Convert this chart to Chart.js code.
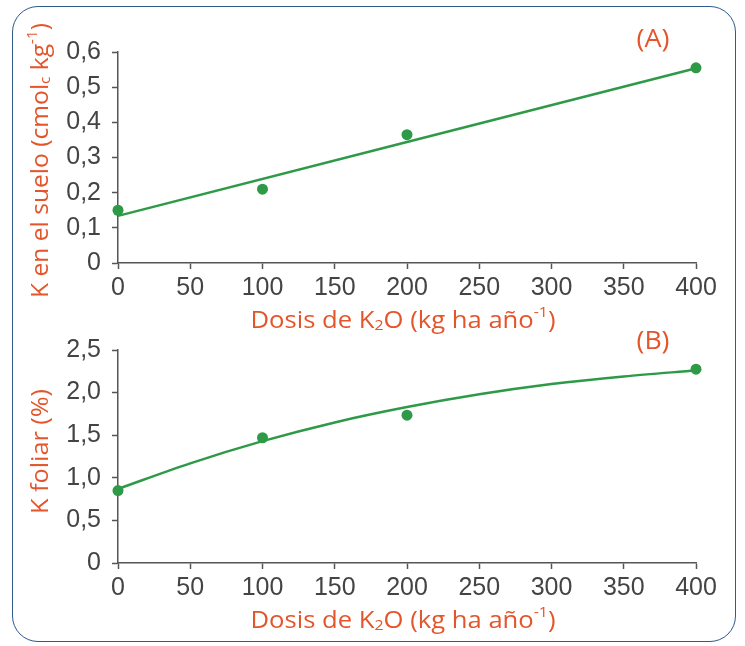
<!DOCTYPE html>
<html>
<head>
<meta charset="utf-8">
<script src="https://cdn.jsdelivr.net/npm/chart.js@4"></script>
<style>
  html, body { margin: 0; padding: 0; background: #fff; }
  body { width: 745px; height: 646px; position: relative; overflow: hidden; }
  .marco {
    position: absolute; left: 12px; top: 6px; width: 724px; height: 636px;
    border: 1.5px solid #2f5a8a; border-radius: 26px; box-sizing: border-box;
  }
  #gA { position: absolute; left: 0; top: 0; }
  #gB { position: absolute; left: 0; top: 320px; }
</style>
</head>
<body>
<div class="marco"></div>
<canvas id="gA" width="745" height="340"></canvas>
<canvas id="gB" width="745" height="326"></canvas>
<script>
// datos
const dosis = [0, 100, 200, 400];
const kSuelo = [0.15, 0.21, 0.365, 0.555];
const kFoliar = [0.85, 1.47, 1.735, 2.275];

// lineas de ajuste (A recta, B curva)
const dosisAjusteA = [0, 400];
const ajusteA = [0.134, 0.554];
const dosisAjusteB = [0, 50, 100, 150, 200, 250, 300, 350, 400];
const ajusteB = [0.87, 1.17, 1.43, 1.65, 1.83, 1.98, 2.10, 2.19, 2.26];

// ticks
const xTicks = [0, 50, 100, 150, 200, 250, 300, 350, 400];
const xTickLabels = ['0', '50', '100', '150', '200', '250', '300', '350', '400'];
const yTicksA = [0, 0.1, 0.2, 0.3, 0.4, 0.5, 0.6];
const yTickLabelsA = ['0', '0,1', '0,2', '0,3', '0,4', '0,5', '0,6'];
const yTicksB = [0, 0.5, 1.0, 1.5, 2.0, 2.5];
const yTickLabelsB = ['0', '0,5', '1,0', '1,5', '2,0', '2,5'];

// titulos (texto, modo: '' | 'sub' | 'sup')
const tituloX = [['Dosis de K', ''], ['2', 'sub'], ['O (kg ha año', ''], ['-1', 'sup'], [')', '']];
const tituloYA = [['K en el suelo (cmol', ''], ['c', 'sub'], [' kg', ''], ['-1', 'sup'], [')', '']];
const tituloYB = [['K foliar (%)', '']];

const verde = '#2e9a48';
const naranja = '#e4552b';
const gris = '#444444';
const fuenteTitulo = '"Open Sans", Lato, sans-serif';

function toPoints(xs, ys) {
  return xs.map(function(x, i) { return {x: x, y: ys[i]}; });
}

// dibuja texto con sub/superindices, centrado en el origen
function textoRico(ctx, segs, size, ancho) {
  const parts = segs.map(function(s) {
    const sz = s[1] ? size * 0.62 : size;
    ctx.font = sz + 'px ' + fuenteTitulo;
    return {t: s[0], m: s[1], sz: sz, w: ctx.measureText(s[0]).width};
  });
  const total = parts.reduce(function(a, p) { return a + p.w; }, 0);
  const esc = ancho ? ancho / total : 1;
  ctx.scale(esc, 1);
  let x = -total / 2;
  parts.forEach(function(p) {
    ctx.font = p.sz + 'px ' + fuenteTitulo;
    let dy = 0;
    if (p.m === 'sub') dy = size * 0.22;
    if (p.m === 'sup') dy = -size * 0.36;
    ctx.fillText(p.t, x, dy);
    x += p.w;
  });
}

const titulosPlugin = {
  id: 'titulos',
  afterDraw: function(chart, args, opts) {
    const ctx = chart.ctx;
    const a = chart.chartArea;
    ctx.save();
    ctx.fillStyle = naranja;
    ctx.textAlign = 'left';
    ctx.textBaseline = 'middle';
    // eje x
    ctx.save();
    ctx.translate(403, a.bottom + 58);
    textoRico(ctx, tituloX, 23, 305);
    ctx.restore();
    // eje y
    ctx.save();
    ctx.translate(41, (a.top + a.bottom) / 2 + opts.yOff);
    ctx.rotate(-Math.PI / 2);
    textoRico(ctx, opts.yTitle, 23, opts.yAncho);
    ctx.restore();
    // letra del panel
    ctx.save();
    ctx.translate(653, a.top + opts.letraOff);
    textoRico(ctx, [[opts.letra, '']], 25, 33);
    ctx.restore();
    ctx.restore();
  }
};

function makeConfig(puntos, ajusteX, ajusteY, yTicks, yLabels, yMax, alturaX, padTop, titulo) {
  return {
    type: 'scatter',
    data: {
      datasets: [{
        data: toPoints(dosis, puntos),
        backgroundColor: verde,
        borderColor: verde,
        pointRadius: 5.5,
        borderWidth: 0,
        clip: false
      }, {
        data: toPoints(ajusteX, ajusteY),
        showLine: true,
        borderColor: verde,
        borderWidth: 2.5,
        pointRadius: 0,
        cubicInterpolationMode: 'monotone',
        fill: false,
        clip: false
      }]
    },
    options: {
      responsive: false,
      animation: false,
      layout: { padding: { top: padTop, right: 49, left: 0, bottom: 0 } },
      plugins: {
        legend: { display: false },
        tooltip: { enabled: false },
        titulos: titulo
      },
      scales: {
        x: {
          type: 'linear',
          min: 0,
          max: 400,
          afterBuildTicks: function(scale) {
            scale.ticks = xTicks.map(function(v) { return {value: v}; });
          },
          afterFit: function(scale) { scale.height = alturaX; },
          ticks: {
            color: gris,
            padding: 4,
            font: { family: '"Liberation Sans", Arial, sans-serif', size: 25 },
            callback: function(v, i) { return xTickLabels[i]; }
          },
          grid: { display: true, drawOnChartArea: false, drawTicks: true, tickLength: 6, tickColor: '#555', tickWidth: 1.5 },
          border: { display: true, color: '#555', width: 1.5 }
        },
        y: {
          type: 'linear',
          min: 0,
          max: yMax,
          afterBuildTicks: function(scale) {
            scale.ticks = yTicks.map(function(v) { return {value: v}; });
          },
          afterFit: function(scale) { scale.width = 118; },
          ticks: {
            color: gris,
            padding: 11,
            font: { family: '"Liberation Sans", Arial, sans-serif', size: 25 },
            callback: function(v, i) { return yLabels[i]; }
          },
          grid: { display: true, drawOnChartArea: false, drawTicks: true, tickLength: 6, tickColor: '#555', tickWidth: 1.5 },
          border: { display: true, color: '#555', width: 1.5 }
        }
      }
    },
    plugins: [titulosPlugin]
  };
}

var chartA = new Chart(document.getElementById('gA'),
  makeConfig(kSuelo, dosisAjusteA, ajusteA, yTicksA, yTickLabelsA, 0.6, 77, 52,
    { yTitle: tituloYA, yOff: 3, yAncho: 275, letra: '(A)', letraOff: -12 }));

var chartB = new Chart(document.getElementById('gB'),
  makeConfig(kFoliar, dosisAjusteB, ajusteB, yTicksB, yTickLabelsB, 2.5, 83, 30,
    { yTitle: tituloYB, yOff: -5, yAncho: 125, letra: '(B)', letraOff: -8 }));
</script>
</body>
</html>
